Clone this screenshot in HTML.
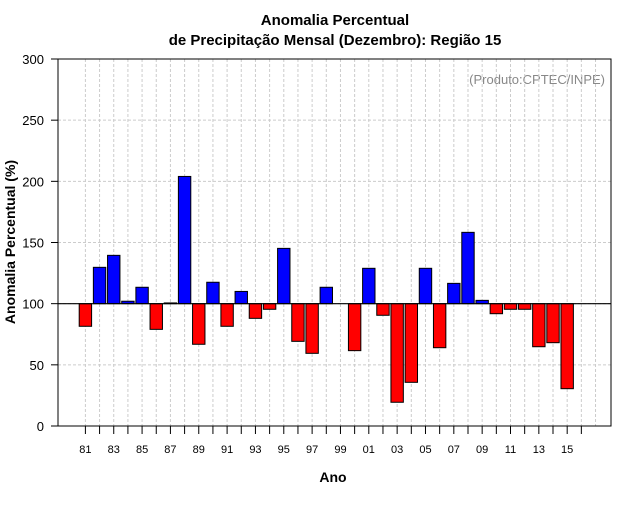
<!DOCTYPE html>
<html><head><meta charset="utf-8"><style>
body{margin:0;background:#fff;}
svg text{font-family:"Liberation Sans",sans-serif;}
</style></head><body>
<svg id="chart" width="640" height="500" viewBox="0 0 640 500" xmlns="http://www.w3.org/2000/svg">
<rect width="640" height="500" fill="#fff"/>
<text x="335" y="25" text-anchor="middle" font-size="15" font-weight="bold">Anomalia Percentual</text>
<text x="335" y="45" text-anchor="middle" font-size="15" font-weight="bold">de Precipitação Mensal (Dezembro): Região 15</text>
<text x="605" y="84" text-anchor="end" font-size="13" fill="#888">(Produto:CPTEC/INPE)</text>
<text x="333" y="482" text-anchor="middle" font-size="14" font-weight="bold">Ano</text>
<text transform="translate(15,242) rotate(-90)" text-anchor="middle" font-size="14" font-weight="bold">Anomalia Percentual (%)</text>
<g id="grid"></g><g id="bars"></g><g id="axes"></g>
</svg>
<script>
const years = [1981,1982,1983,1984,1985,1986,1987,1988,1989,1990,1991,1992,1993,1994,1995,1996,1997,1998,1999,2000,2001,2002,2003,2004,2005,2006,2007,2008,2009,2010,2011,2012,2013,2014,2015];
const values = [81.5,129.7,139.5,102,113.4,79,100.6,204,66.8,117.5,81.5,110,88,95.4,145.2,69.2,59.4,113.4,100,61.6,128.9,90.5,19.4,35.7,128.9,64,116.6,158.3,102.7,91.8,95.4,95.4,64.8,68.1,30.5];
const yTicks = [0,50,100,150,200,250,300];
const baseline = 100;
const L=58,R=611,T=59,B=426;
const y = v => B - (v/300)*(B-T);
const x = yr => 85.4 + (yr-1981)*14.17;
const ns="http://www.w3.org/2000/svg";
function mk(tag,attrs,parent){const e=document.createElementNS(ns,tag);for(const k in attrs)e.setAttribute(k,attrs[k]);document.getElementById(parent).appendChild(e);return e;}
// grid
for(const t of yTicks){ if(t===0||t===300) continue;
 const g=mk('line',{x1:L,x2:R,y1:y(t),y2:y(t),stroke:'#ccc','stroke-dasharray':'3,2'},'grid');
 
 
}
for(let yr=1981;yr<=2017;yr++){
 const g=mk('line',{x1:x(yr),x2:x(yr),y1:T,y2:B,stroke:'#ccc','stroke-dasharray':'3,2'},'grid');
 
 
}
// bars
years.forEach((yr,i)=>{
 const v=values[i]; const top=Math.min(y(v),y(baseline)), h=Math.abs(y(v)-y(baseline));
 if(h<0.3) return;
 const b=mk('rect',{x:x(yr)-6.2,y:top,width:12.4,height:h,fill:v>=baseline?'#0000ff':'#ff0000',stroke:'#000','stroke-width':1},'bars');
 
 
});
// axes
const fr=mk('rect',{x:L,y:T,width:R-L,height:B-T,fill:'none',stroke:'#000','stroke-width':1},'axes');


const bl=mk('line',{x1:L,x2:R,y1:y(baseline),y2:y(baseline),stroke:'#000','stroke-width':1.2},'axes');


for(const t of yTicks){
 const tk=mk('line',{x1:L-7,x2:L,y1:y(t),y2:y(t),stroke:'#000'},'axes');
 
 
 const lb=mk('text',{x:L-14,y:y(t)+5,'text-anchor':'end','font-size':13},'axes');
 lb.textContent=t;
 
 
}
for(let yr=1981;yr<=2016;yr++){
 const tk=mk('line',{x1:x(yr),x2:x(yr),y1:B,y2:B+8,stroke:'#000'},'axes');
 
 
 if((yr-1981)%2===0){
  const lb=mk('text',{x:x(yr),y:453,'text-anchor':'middle','font-size':11},'axes');
  lb.textContent=String(yr%100).padStart(2,'0');
  
  
 }
}
</script>
</body></html>
